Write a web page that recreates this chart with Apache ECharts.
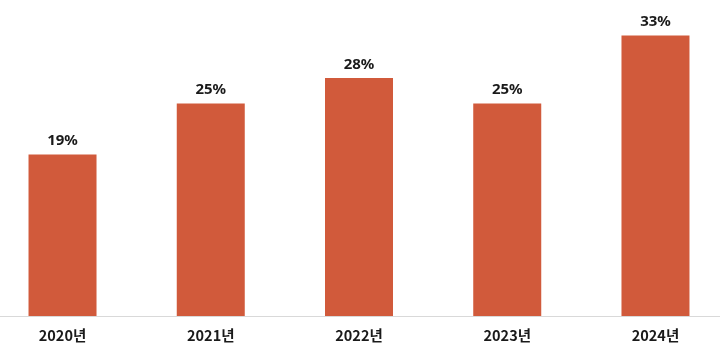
<!DOCTYPE html>
<html><head><meta charset="utf-8">
<script src="https://cdn.jsdelivr.net/npm/echarts@6/dist/echarts.min.js"></script>
<style>html,body{margin:0;padding:0;background:#fff}#c{width:720px;height:356px}</style>
</head><body><div id="c"></div>
<script>
const categories = ['2020년','2021년','2022년','2023년','2024년'];
const values = [19, 25, 28, 25, 33];
const chart = echarts.init(document.getElementById('c'));
chart.setOption({
  animation: false,
  grid: {left: -11.6, right: -9.6, top: 1.5, bottom: 40, containLabel: false, outerBoundsMode: 'none'},
  xAxis: {
    type: 'category', data: categories,
    axisLine: {lineStyle: {color: '#d9d9d9', width: 1}},
    axisTick: {show: false},
    axisLabel: {color: '#1a1a1a', fontWeight: 'bold', fontSize: 14.5, margin: 12,
      fontFamily: '"Noto Sans CJK KR", "Noto Sans", sans-serif'}
  },
  yAxis: {type: 'value', min: 0, max: 37, show: false, splitLine: {show: false}},
  series: [{
    type: 'bar', data: values, barWidth: 68,
    itemStyle: {color: '#D15A3B'},
    label: {show: true, position: 'top', distance: 6, formatter: '{c}%',
      color: '#1a1a1a', fontWeight: 'bold', fontSize: 15,
      fontFamily: '"Noto Sans", "Open Sans", sans-serif'}
  }]
});
</script></body></html>
